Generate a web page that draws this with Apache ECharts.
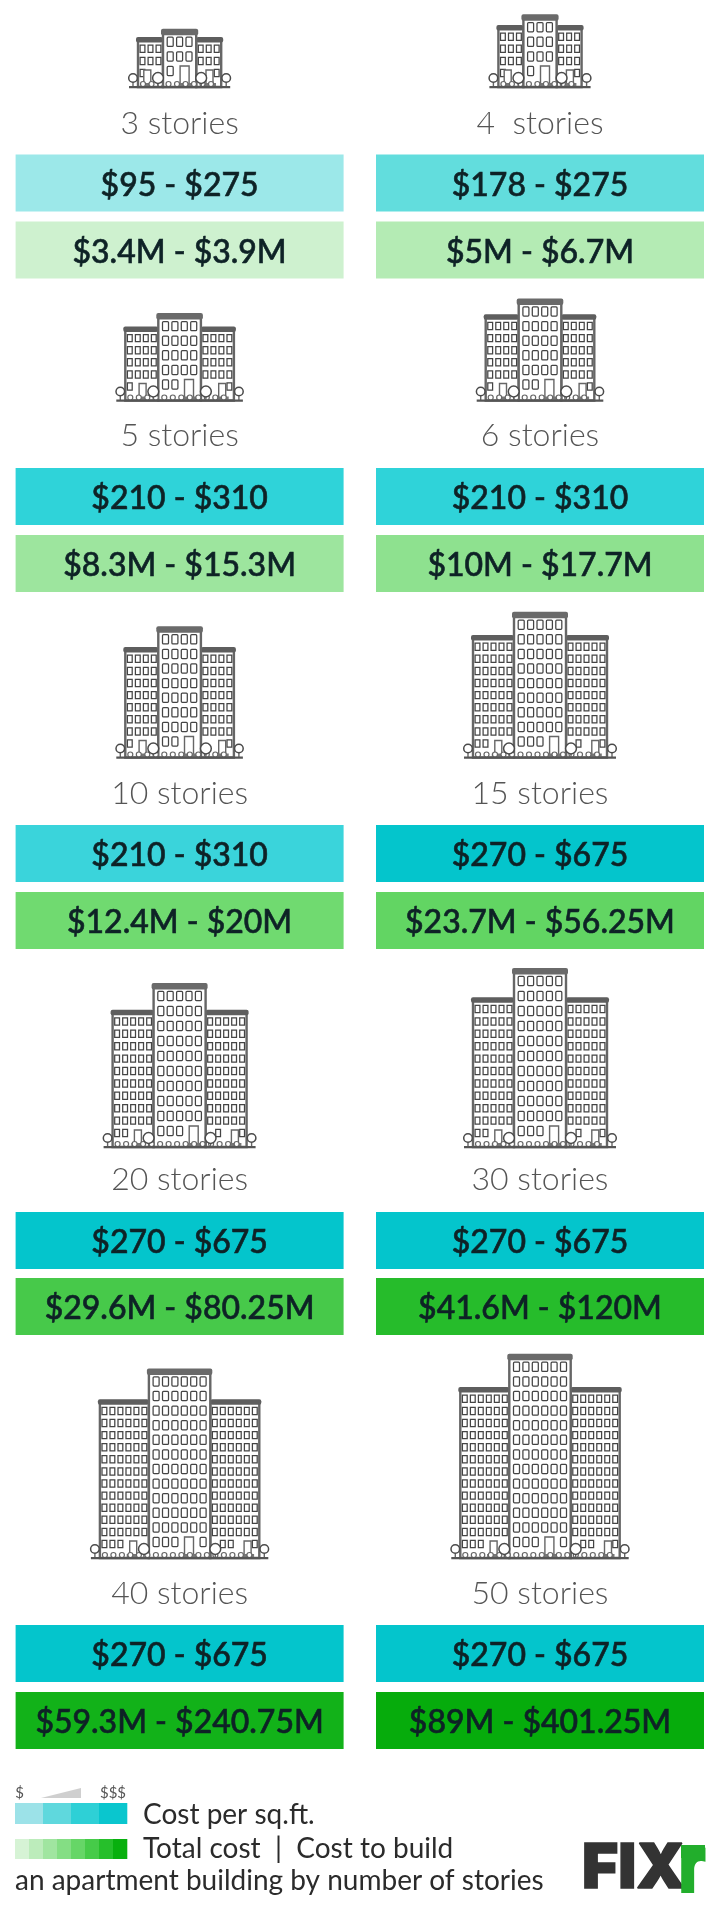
<!DOCTYPE html>
<html>
<head>
<meta charset="utf-8">
<style>html,body{margin:0;padding:0;background:#fff}#c{width:720px;height:1906px}</style>
<script src="https://cdn.jsdelivr.net/npm/echarts@6/dist/echarts.min.js"></script>
</head>
<body>
<div id="c"></div>
<script>
// ---------- data ----------
const categories = ['3 stories','4  stories','5 stories','6 stories','10 stories','15 stories','20 stories','30 stories','40 stories','50 stories'];
const sqftLow   = [95,178,210,210,210,270,270,270,270,270];
const sqftHigh  = [275,275,310,310,310,675,675,675,675,675];
const totalLow  = [3.4,5,8.3,10,12.4,23.7,29.6,41.6,59.3,89];
const totalHigh = [3.9,6.7,15.3,17.7,20,56.25,80.25,120,240.75,401.25];
const windowRows = [3,4,5,6,8,9,10,11,12,13];
const windowCols = [3,3,4,4,4,5,5,5,6,6];
const legendLow = '$';
const legendHigh = '$$$';
const legendSqft = 'Cost per sq.ft.';
const legendTotal = 'Total cost  |  Cost to build';
const legendCaption = 'an apartment building by number of stories';

// ---------- styles and layout ----------
const sqftColors  = ['#9CE8E9','#62DDDD','#2FD3D9','#2FD3D9','#3AD4DB','#04C5CC','#04C5CC','#04C5CC','#04C5CC','#04C5CC'];
const totalColors = ['#CEF1CF','#B4EBB4','#9DE59E','#8EE18F','#70DA70','#62D563','#47C94A','#26BC2B','#12B219','#06AC0C'];
const legendTeal  = ['#9CE2E8','#5FD8DD','#2ED0D6','#0AC6CE'];
const legendGreen = ['#D6F3D5','#BCECBB','#A0E5A0','#84DE84','#66D667','#46CB49','#26BF2B','#08B00E'];
const colX = [[15.6,343.6],[376,704]];
const rowBars = [[154.5,211.5,221.5,278.5],[468,525,535,592],[825,882,892,949],[1212,1269,1278,1335],[1625,1682,1692,1749]];
const labelY = [124,436,794,1180,1594];
const groundY = [87,400.5,757.5,1147,1558];
const rowGapCentre = [14.6,14.6,14.6,15,14.6];
const rowGapSide = [12.1,12.1,12.1,12.4,12.1];
const FONT = 'Lato, "Open Sans", sans-serif';
const DARK = '#0E2226';
const INK = '#555';
const LOGO = 'Inter, "Liberation Sans", sans-serif';

const fmtSqft = (a,b) => `$${a} - $${b}`;
const fmtTotal = (a,b) => `$${a}M - $${b}M`;
const tileBox = i => {
  const c = colX[i%2], r = rowBars[Math.floor(i/2)];
  return {x0:c[0], x1:c[1], r};
};

function rectOf(api,x0,y0,x1,y1,style,extra){
  const a = api.coord([x0,y0]), b = api.coord([x1,y1]);
  return {type:'rect',shape:{x:a[0],y:a[1],width:b[0]-a[0],height:b[1]-a[1],r:(extra&&extra.r)||0},style};
}
function textOf(api,x,y,text,opts){
  const p = api.coord([x,y]);
  return {type:'text',style:Object.assign({text,x:p[0],y:p[1],align:'center',verticalAlign:'middle',fontFamily:FONT},opts)};
}
function circleOf(api,x,y,r,style){
  const p = api.coord([x,y]);
  return {type:'circle',shape:{cx:p[0],cy:p[1],r},style};
}

function tileRender(which,low,high,colors,fmt){
  return function(params,api){
    const i = params.dataIndex, b = tileBox(i);
    const y0 = b.r[which*2], y1 = b.r[which*2+1];
    return {type:'group',children:[
      rectOf(api,b.x0,y0,b.x1,y1,{fill:colors[i]}),
      textOf(api,(b.x0+b.x1)/2,(y0+y1)/2+2.2,fmt(low[i],high[i]),{fill:DARK,fontSize:32,fontWeight:500,stroke:DARK,lineWidth:0.6})
    ]};
  };
}

function buildingRender(params,api){
  const i = params.dataIndex, n = windowCols[i], rows = windowRows[i];
  const row = Math.floor(i/2);
  const b = tileBox(i), cx = (b.x0+b.x1)/2, g = groundY[row];
  const lc = '#666', sw = 9.4, ss = 8, rh = rowGapCentre[row], rs = rowGapSide[row];
  const cw = n*sw+5, sdw = n*ss+1;
  const x0 = cx-cw/2, x1 = cx+cw/2;
  const cTop = g-16-(rows-1)*rh-13, sTop = g-14-(rows-1)*rs-11.7;
  const ch = [];
  const line = {fill:'#fff',stroke:lc,lineWidth:2.4};
  // side towers
  ch.push(rectOf(api,x0-sdw,sTop+3,x0,g,line));
  ch.push(rectOf(api,x1,sTop+3,x1+sdw,g,line));
  ch.push(rectOf(api,x0-sdw-2,sTop,x0,sTop+5.5,{fill:'#5e5e5e'},{r:2}));
  ch.push(rectOf(api,x1,sTop,x1+sdw+2,sTop+5.5,{fill:'#5e5e5e'},{r:2}));
  // centre tower
  ch.push(rectOf(api,x0,cTop+3,x1,g,line));
  ch.push(rectOf(api,x0-2,cTop,x1+2,cTop+6.5,{fill:'#6a6a6a'},{r:2}));
  const win = {fill:'#fff',stroke:'#444',lineWidth:1.25};
  // windows: centre tower
  for(let r=0;r<rows;r++){
    const y = g-16-r*rh;
    for(let c=0;c<n;c++){
      const x = cx-(n-1)*sw/2+c*sw;
      if(r===0){ if(n===6 && (c===3||c===4)) continue; if(n<6 && c>=n-2) continue; if(n===3&&c===1) continue; }
      ch.push(rectOf(api,x-3,y-4.6,x+3,y+4.6,win,{r:1}));
    }
  }
  // windows: side towers
  [x0-sdw/2,x1+sdw/2].forEach((sx,side)=>{
    for(let r=0;r<rows;r++){
      const y = g-14-r*rs;
      for(let c=0;c<n;c++){
        if(r===0){
          if(side===0 && c>n-4 && c>0) continue;
          if(side===1 && (c===0 || (c>=n-3 && c<n-1 && n>3) || (n===3&&c>=1&&c<2))) continue;
        }
        const x = sx-(n-1)*ss/2+c*ss;
        ch.push(rectOf(api,x-2.4,y-3.6,x+2.4,y+3.6,win));
      }
    }
  });
  // doors
  const door = (x,w,h)=>{
    ch.push(rectOf(api,x-w/2,g-h,x+w/2,g-2,{fill:'#fff',stroke:lc,lineWidth:1.4}));
    ch.push(rectOf(api,x-w/2-3,g-4,x+w/2+3,g,{fill:'#777'}));
  };
  door(cx+(n===3?5:(n-1)*sw/2-sw/2-(n===6?sw:0)),9,21);
  door(x0-sdw/2+(n-1)*ss/2-ss*1.4,7,17);
  door(x1+sdw/2+(n-1)*ss/2-ss*0.9,7,17);
  // bushes along the base
  for(let x=x0-sdw+5;x<x1+sdw-2;x+=8.5){
    ch.push(circleOf(api,x,g-3,2.5,{fill:'#fff',stroke:lc,lineWidth:1.2}));
  }
  // trees
  [[x0-sdw-5,4.3],[x0-5,5.4],[x1+5,5.4],[x1+sdw+5,4.3]].forEach(t=>{
    ch.push(rectOf(api,t[0]-0.7,g-8,t[0]+0.7,g,{fill:lc}));
    ch.push(circleOf(api,t[0],g-9,t[1],{fill:'#fff',stroke:'#4a4a4a',lineWidth:1.5}));
  });
  ch.push(rectOf(api,x0-sdw-9,g-1,x1+sdw+9,g+1.2,{fill:'#555'}));
  return {type:'group',children:ch};
}

function labelRender(params,api){
  const i = params.dataIndex, b = tileBox(i);
  return textOf(api,(b.x0+b.x1)/2,labelY[Math.floor(i/2)],categories[i],{fill:INK,fontSize:32,fontWeight:300});
}

function swatch(api,colors,y0,y1){
  const x0=15, x1=127, w=(x1-x0)/colors.length;
  return colors.map((c,k)=>rectOf(api,x0+k*w,y0,x0+(k+1)*w+0.3,y1,{fill:c}));
}
function legendRender(params,api){
  const ch = [];
  ch.push(textOf(api,19.5,1793,legendLow,{fill:INK,fontSize:15}));
  ch.push(textOf(api,113,1793,legendHigh,{fill:INK,fontSize:15}));
  const p = [[41,1798],[81,1788],[81,1798]].map(q=>api.coord(q));
  ch.push({type:'polygon',shape:{points:p},style:{fill:'#cfcfcf'}});
  ch.push(...swatch(api,legendTeal,1803,1824));
  ch.push(...swatch(api,legendGreen,1839,1859));
  const left = {align:'left',fill:'#2b2b2b',fontSize:28};
  ch.push(textOf(api,143,1815,legendSqft,left));
  ch.push(textOf(api,143,1849,legendTotal,left));
  ch.push(textOf(api,15,1881,legendCaption,left));
  // logo
  ch.push(textOf(api,582,1869,'FIX',{align:'left',fill:'#333',fontSize:62,fontWeight:900,fontFamily:LOGO,stroke:'#333',lineWidth:1.5}));
  const rp = api.coord([678,1868]);
  ch.push({type:'text',x:rp[0],y:rp[1],scaleX:0.78,style:{text:'r',x:0,y:0,align:'left',verticalAlign:'middle',fill:'#22AE2C',fontSize:84,fontWeight:900,fontFamily:LOGO}});
  ch.push(rectOf(api,681,1845,705,1858,{fill:'#22AE2C'}));
  return {type:'group',children:ch};
}

const idx = categories.map((_,i)=>[i]);
const common = {type:'custom',coordinateSystem:'cartesian2d',silent:true,clip:false,encode:{x:0,y:0}};

const chart = echarts.init(document.getElementById('c'),null,{renderer:'canvas',width:720,height:1906});
chart.setOption({
  animation:false,
  backgroundColor:'#fff',
  grid:{left:0,right:0,top:0,bottom:0},
  xAxis:{type:'value',min:0,max:720,show:false},
  yAxis:{type:'value',min:0,max:1906,inverse:true,show:false},
  tooltip:{show:false},
  series:[
    Object.assign({},common,{name:'Buildings',data:idx,renderItem:buildingRender}),
    Object.assign({},common,{name:'Labels',data:idx,renderItem:labelRender}),
    Object.assign({},common,{name:'Cost per sq.ft.',data:sqftLow.map((v,i)=>[v,sqftHigh[i]]),renderItem:tileRender(0,sqftLow,sqftHigh,sqftColors,fmtSqft)}),
    Object.assign({},common,{name:'Total cost',data:totalLow.map((v,i)=>[v,totalHigh[i]]),renderItem:tileRender(1,totalLow,totalHigh,totalColors,fmtTotal)}),
    Object.assign({},common,{name:'Legend',data:[[0]],renderItem:legendRender})
  ]
});
</script>
</body>
</html>
